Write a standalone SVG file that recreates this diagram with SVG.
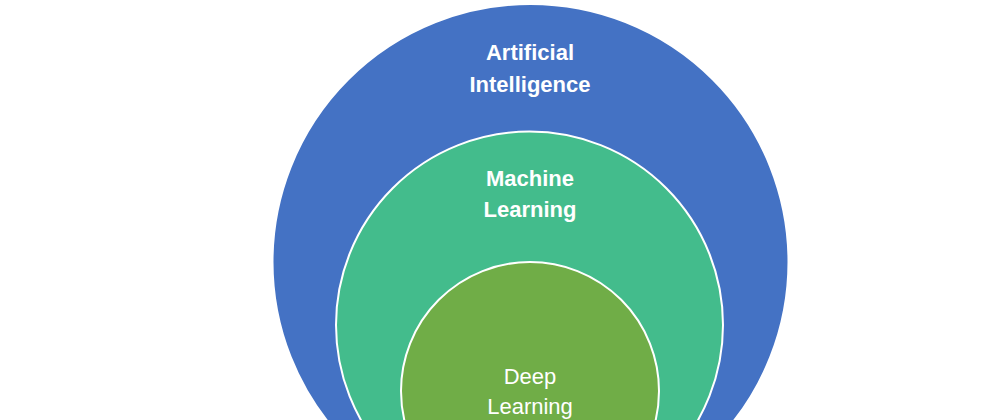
<svg xmlns="http://www.w3.org/2000/svg" width="1000" height="420" viewBox="0 0 1000 420">
<style>
circle{stroke:#fff;stroke-width:2}
text{font-family:"Liberation Sans",Arial,sans-serif;fill:#fff;font-size:22px;text-anchor:middle}
.b{font-weight:bold}
</style>
<rect width="1000" height="420" fill="#fff"/>
<g id="ai"><circle cx="530.5" cy="262" r="258" fill="#4472C4"/>
<text class="b" x="530" y="60">Artificial</text><text class="b" x="530" y="92">Intelligence</text></g>
<g id="ml"><circle cx="529.5" cy="325" r="193.5" fill="#43BC8C"/>
<text class="b" x="530" y="186">Machine</text><text class="b" x="530" y="217">Learning</text></g>
<g id="dl"><circle cx="530" cy="391" r="129" fill="#70AD47"/>
<text x="530" y="384">Deep</text><text x="530" y="414">Learning</text></g>
<g id="connectors"/>
</svg>
